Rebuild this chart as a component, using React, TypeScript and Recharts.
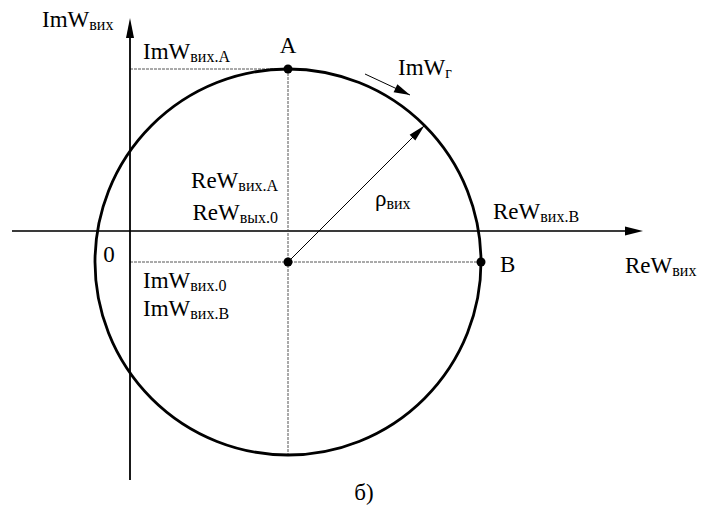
import { ScatterChart, Scatter, XAxis, YAxis, ReferenceLine, ReferenceDot } from 'recharts'

const W = 702
const H = 510
const X_DOMAIN = [-13, 57.2]
const Y_DOMAIN = [-27.9, 23.1]
// both axes share one scale, so the circle stays round
const PX = W / (X_DOMAIN[1] - X_DOMAIN[0])

const FONT = '"Liberation Serif", "Times New Roman", serif'

// output impedance hodograph: centre, radius and the marked points
const centre = { re: 15.8, im: -3.1 }
const rho = 19.3
const rhoAngle = 45
const points = [
  { name: 'A', re: 15.8, im: 16.2 },
  { name: 'B', re: 35.1, im: -3.1 },
  { name: 'O', re: 15.8, im: -3.1 },
]

// coordinate axes (start, arrow tip)
const reAxis = [-11.8, 51.3]
const imAxis = [-24.9, 21.3]

// direction of generator impedance change
const imGArrow = [
  { re: 23.5, im: 15.7 },
  { re: 28.0, im: 13.6 },
]

const labels = [
  { main: 'ImW', sub: 'вих', re: -8.8, im: 20.4, anchor: 'start' },
  { main: 'ImW', sub: 'вих.A', re: 1.3, im: 17.2, anchor: 'start' },
  { main: 'A', sub: '', re: 15.8, im: 17.8, anchor: 'middle' },
  { main: 'ImW', sub: 'г', re: 26.8, im: 15.6, anchor: 'start' },
  { main: 'ρ', sub: 'вих', re: 24.5, im: 2.5, anchor: 'start' },
  { main: 'ReW', sub: 'вих.A', re: 14.8, im: 4.3, anchor: 'end' },
  { main: 'ReW', sub: 'вых.0', re: 14.8, im: 1.1, anchor: 'end' },
  { main: '0', sub: '', re: -2.1, im: -3.1, anchor: 'middle' },
  { main: 'ReW', sub: 'вих.B', re: 36.3, im: 1.2, anchor: 'start' },
  { main: 'B', sub: '', re: 37.0, im: -4.1, anchor: 'start' },
  { main: 'ReW', sub: 'вих', re: 49.5, im: -4.2, anchor: 'start' },
  { main: 'ImW', sub: 'вих.0', re: 1.3, im: -5.7, anchor: 'start' },
  { main: 'ImW', sub: 'вих.B', re: 1.3, im: -8.5, anchor: 'start' },
  { main: 'б)', sub: '', re: 23.4, im: -26.9, anchor: 'middle' },
]

const pointA = points[0]
const pointB = points[1]
const rimPoint = {
  re: centre.re + rho * Math.cos((rhoAngle * Math.PI) / 180),
  im: centre.im + rho * Math.sin((rhoAngle * Math.PI) / 180),
}

const arrowHead = (from: { re: number; im: number }, to: { re: number; im: number }, len: number, half: number) => {
  const ang = (Math.atan2(-(to.im - from.im), to.re - from.re) * 180) / Math.PI
  return (p: any) => (
    <polygon
      points={`0,0 ${-len},${-half} ${-len},${half}`}
      transform={`translate(${p.cx},${p.cy}) rotate(${ang})`}
      fill="#000"
    />
  )
}

const textShape = (l: (typeof labels)[number]) => (p: any) => (
  <text
    x={p.cx}
    y={p.cy}
    textAnchor={l.anchor as any}
    fill="#000"
    style={{ fontFamily: FONT, fontSize: 23, fontWeight: 'normal' }}
  >
    {l.main}
    {l.sub && (
      <tspan dy={3} style={{ fontSize: 16 }}>
        {l.sub}
      </tspan>
    )}
  </text>
)

const dotted = { stroke: '#555', strokeWidth: 1, strokeDasharray: '3 1' }

export default function App() {
  return (
    <div style={{ position: 'absolute', left: 0, top: 0, width: W, height: H, background: '#fff' }}>
      <ScatterChart width={W} height={H} margin={{ top: 0, right: 0, bottom: 0, left: 0 }}>
        <XAxis type="number" dataKey="re" domain={X_DOMAIN} allowDataOverflow hide />
        <YAxis type="number" dataKey="im" domain={Y_DOMAIN} allowDataOverflow hide />

        {/* dotted projections */}
        <ReferenceLine segment={[{ x: 0, y: pointA.im }, { x: pointA.re, y: pointA.im }]} {...dotted} />
        <ReferenceLine
          segment={[{ x: pointA.re, y: pointA.im }, { x: centre.re, y: centre.im - rho }]}
          {...dotted}
        />
        <ReferenceLine segment={[{ x: 0, y: centre.im }, { x: pointB.re, y: pointB.im }]} {...dotted} />

        {/* axes */}
        <ReferenceLine
          segment={[{ x: reAxis[0], y: 0 }, { x: reAxis[1] - 1.2, y: 0 }]}
          stroke="#3a3a3a"
          strokeWidth={2.2}
        />
        <ReferenceDot
          x={reAxis[1]}
          y={0}
          r={1}
          shape={arrowHead({ re: 0, im: 0 }, { re: 1, im: 0 }, 18, 4.5)}
        />
        <ReferenceLine
          segment={[{ x: 0, y: imAxis[0] }, { x: 0, y: imAxis[1] - 1.2 }]}
          stroke="#000"
          strokeWidth={1.8}
        />
        <ReferenceDot
          x={0}
          y={imAxis[1]}
          r={1}
          shape={arrowHead({ re: 0, im: 0 }, { re: 0, im: 1 }, 20, 4)}
        />

        {/* hodograph circle */}
        <ReferenceDot
          x={centre.re}
          y={centre.im}
          r={rho * PX}
          fill="none"
          stroke="#000"
          strokeWidth={2.8}
        />

        {/* radius */}
        <ReferenceLine
          segment={[{ x: centre.re, y: centre.im }, { x: rimPoint.re, y: rimPoint.im }]}
          stroke="#000"
          strokeWidth={1}
        />
        <ReferenceDot x={rimPoint.re} y={rimPoint.im} r={1} shape={arrowHead(centre, rimPoint, 17, 4)} />

        {/* ImWг direction */}
        <ReferenceLine
          segment={[{ x: imGArrow[0].re, y: imGArrow[0].im }, { x: imGArrow[1].re, y: imGArrow[1].im }]}
          stroke="#000"
          strokeWidth={1}
        />
        <ReferenceDot
          x={imGArrow[1].re}
          y={imGArrow[1].im}
          r={1}
          shape={arrowHead(imGArrow[0], imGArrow[1], 16, 4.5)}
        />

        <Scatter
          data={points}
          fill="#000"
          isAnimationActive={false}
          shape={(p: any) => <circle cx={p.cx} cy={p.cy} r={4.5} fill="#000" />}
        />

        {labels.map((l, i) => (
          <ReferenceDot key={i} x={l.re} y={l.im} r={1} shape={textShape(l)} />
        ))}
      </ScatterChart>
    </div>
  )
}
